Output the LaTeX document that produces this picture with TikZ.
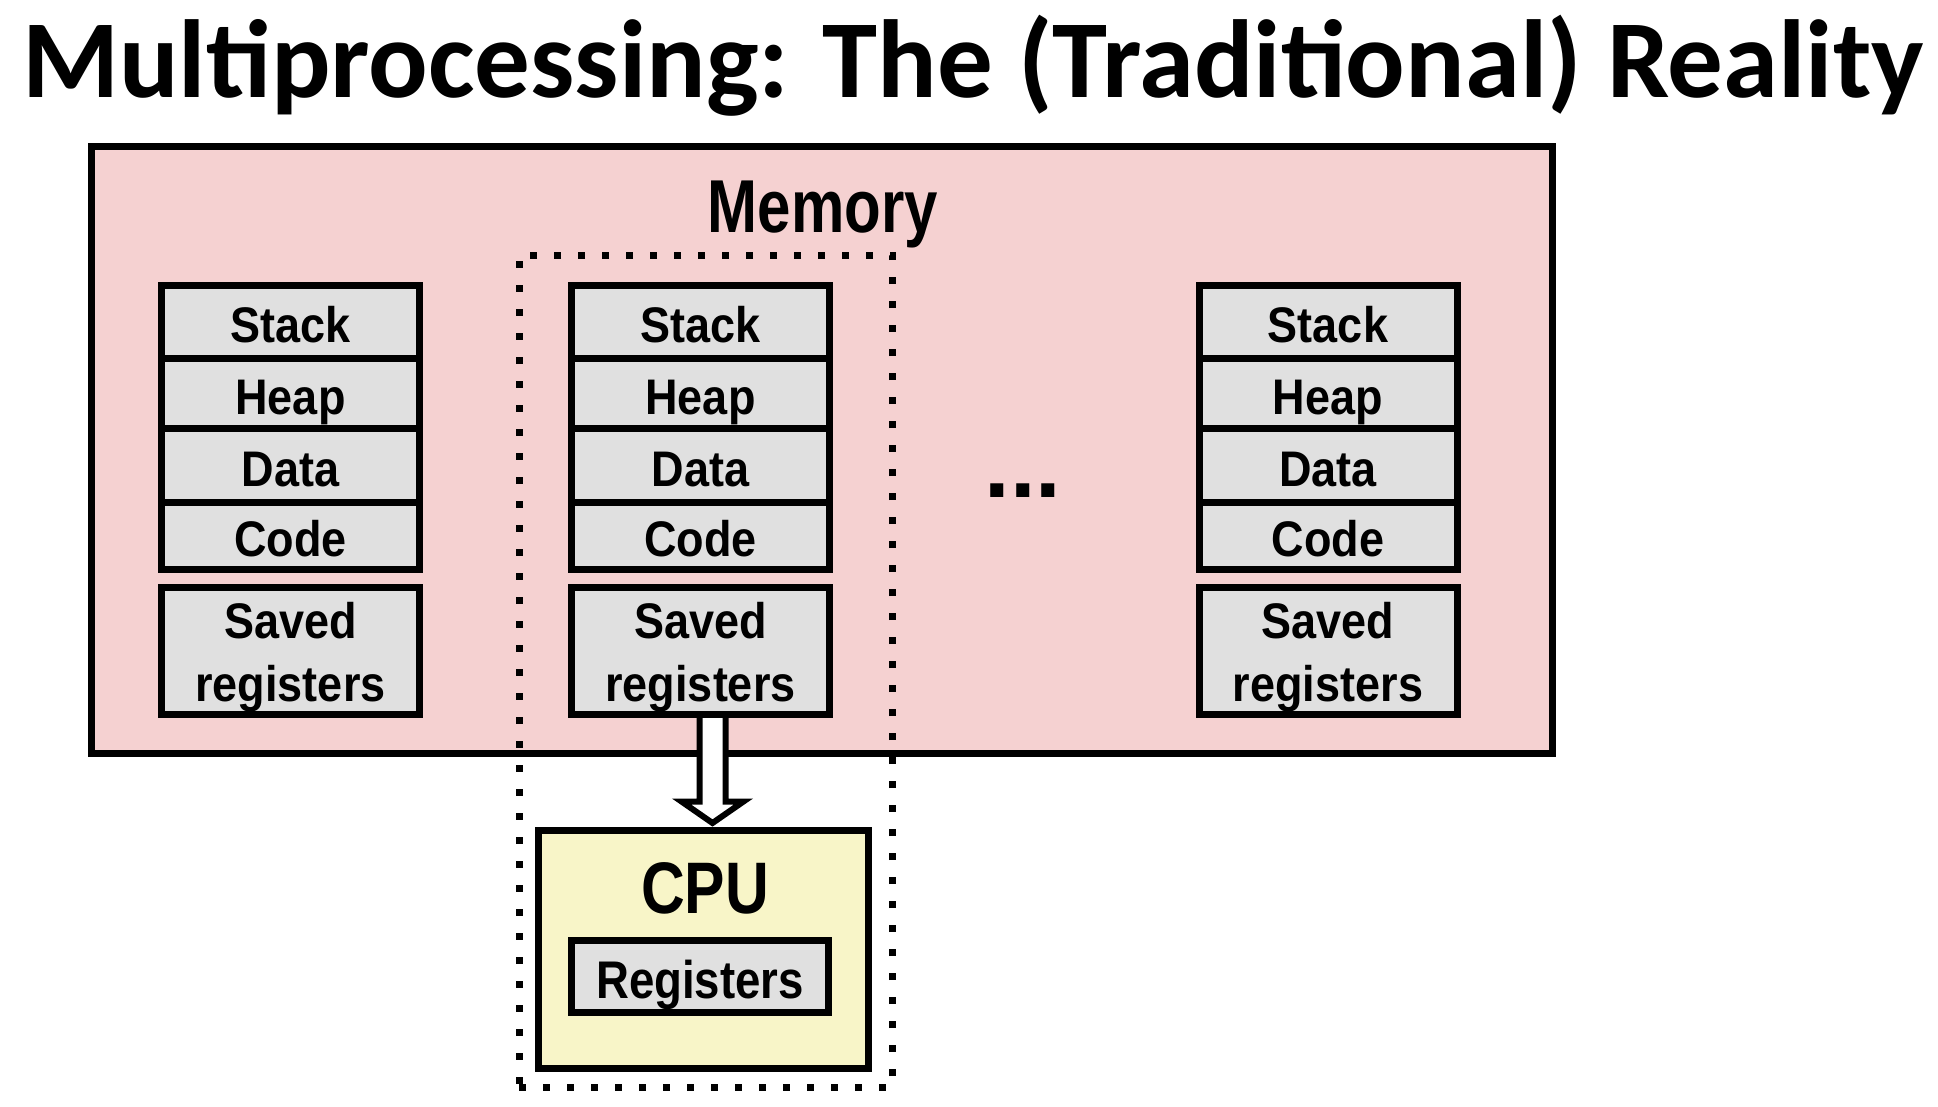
\documentclass[tikz,border=0pt]{standalone}
\usepackage{fontspec}
\newfontfamily\lblfont{Liberation Sans}[FakeStretch=0.90, BoldFeatures={FakeStretch=0.90}]
\newfontfamily\regfont{Liberation Sans}[FakeStretch=0.86, BoldFeatures={FakeStretch=0.86}]
\newfontfamily\memfont{Liberation Sans}[FakeStretch=0.80, BoldFeatures={FakeStretch=0.80}]
\newfontfamily\cpufont{Liberation Sans}[FakeStretch=0.83, BoldFeatures={FakeStretch=0.83}]
\newfontfamily\dotfont{Liberation Sans}
\newfontfamily\titlefont{Carlito}
\usetikzlibrary{calc}
\definecolor{mempink}{HTML}{F5D1D1}
\definecolor{boxgray}{HTML}{E0E0E0}
\definecolor{cpuyellow}{HTML}{F8F5C8}
\tikzset{
  thickbox/.style={draw=black, line width=7pt, rectangle, inner sep=0pt},
  segbox/.style={thickbox, fill=boxgray, minimum width=258pt,
    font=\lblfont\bfseries\fontsize{50}{63}\selectfont,
    text height=42pt, text depth=0pt, align=center},
  savedbox/.style={segbox, text height=100pt, text depth=0pt},
  dotbox/.style={draw=black, line width=7pt, dash pattern=on 7pt off 17pt, rectangle, inner sep=0pt},
  blockarrow/.style={draw=black, fill=white, line width=6pt, line join=miter},
}
\begin{document}
\begin{tikzpicture}[x=1pt, y=-1pt]
\useasboundingbox (0,0) rectangle (1938,1106);
\fill[white] (0,0) rectangle (1938,1106);
% title
\node[anchor=base, inner sep=0pt, font=\titlefont\bfseries\fontsize{111}{120}\selectfont] (title) at (973,97) {Multiprocessing: The (Traditional) Reality};
% memory
\node[thickbox, fill=mempink, minimum width=1461pt, minimum height=607pt] (memory) at (822,450) {};
\node[inner sep=0pt, font=\memfont\bfseries\fontsize{75}{80}\selectfont, text height=54pt, text depth=0pt] (memlabel) at (823,205) {Memory};
% dotted process boundary
\node[dotbox, minimum width=373pt, minimum height=832pt] (proc) at (705.5,671) {};
% arrow from saved registers to CPU
\coordinate (atop) at (712.5,714.5);
\coordinate (atip) at (712.5,823);
\draw[blockarrow] ($(atop)+(-13,0)$) -- ($(atip)+(-13,-21.5)$) -- ($(atip)+(-31,-21.5)$) -- (atip)
  -- ($(atip)+(31,-21.5)$) -- ($(atip)+(13,-21.5)$) -- ($(atop)+(13,0)$) -- cycle;
% columns
\foreach \c/\x in {1/290.5, 2/700.5, 3/1328}{
  \node[segbox, minimum height=72.5pt] (stack\c) at (\x,321.75) {Stack};
  \node[segbox, minimum height=70pt] (heap\c) at (\x,393) {Heap};
  \node[segbox, minimum height=74pt] (data\c) at (\x,465) {Data};
  \node[segbox, minimum height=67.5pt] (code\c) at (\x,535.75) {Code};
  \node[savedbox, minimum height=127pt] (saved\c) at (\x,651) {Saved\\registers};
}
% ellipsis
\node[anchor=base, inner sep=0pt, font=\dotfont\bfseries\fontsize{92}{92}\selectfont] (dots) at (1023,497) {...};
% CPU
\node[thickbox, fill=cpuyellow, minimum width=330pt, minimum height=238pt] (cpu) at (703.5,949.5) {};
\node[inner sep=0pt, font=\cpufont\bfseries\fontsize{73}{80}\selectfont, text height=52pt, text depth=0pt] (cpulabel) at (705,887.5) {CPU};
\node[segbox, minimum width=257pt, minimum height=72pt, font=\regfont\bfseries\fontsize{53}{60}\selectfont, text height=43pt] (regs) at (700,976.5) {Registers};
\end{tikzpicture}
\end{document}
